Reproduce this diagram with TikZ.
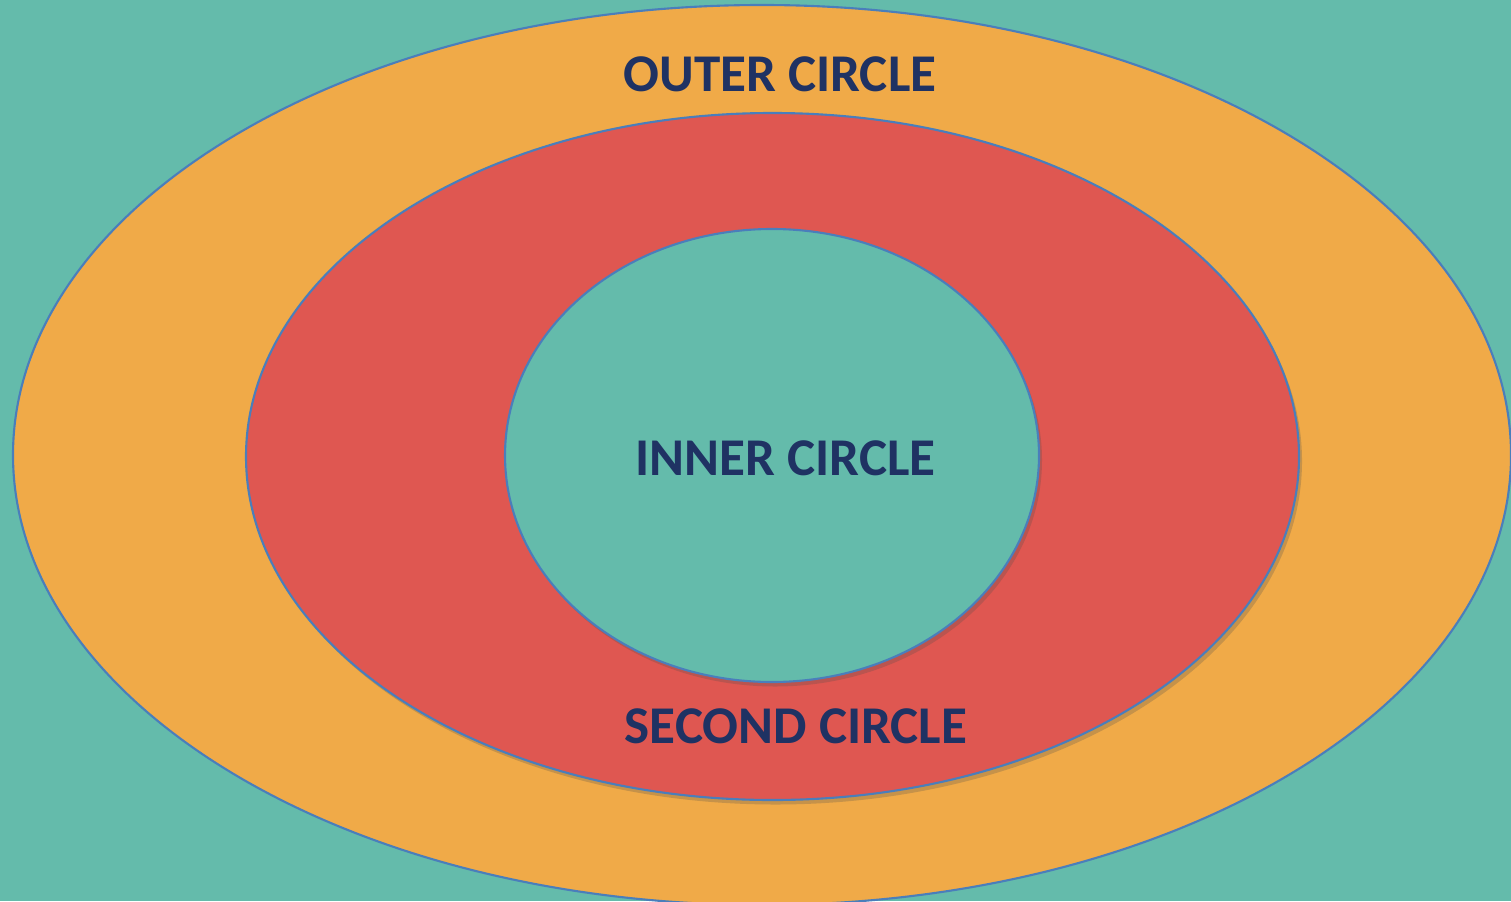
\documentclass[tikz,border=0pt]{standalone}
\usepackage{fontspec}
\setmainfont{Carlito}
\usetikzlibrary{positioning,shapes.geometric,shadows}
\definecolor{turquesa}{HTML}{64BBAB}
\definecolor{naranja}{HTML}{F0AA48}
\definecolor{rojo}{HTML}{DF5751}
\definecolor{borde}{HTML}{4A7EBB}
\definecolor{marino}{HTML}{1F3263}

\begin{document}
\begin{tikzpicture}[
      anillo/.style={ellipse,draw=borde,line width=0.6pt,inner sep=0pt},
      sombra/.style={drop shadow={shadow xshift=0.03cm,shadow yshift=-0.045cm,opacity=0.25,fill=black!70}},
      etiqueta/.style={font=\fontsize{15.1}{18}\selectfont\bfseries,text=marino,inner sep=0pt}]
    \useasboundingbox (0,0) rectangle (15.11,-9.01);
    \clip (0,0) rectangle (15.11,-9.01);
    \fill[turquesa] (0,0) rectangle (15.11,-9.01);
    % the three rings
    \node[anillo,fill=naranja,minimum width=14.98cm,minimum height=9.0cm] (exterior) at (7.62,-4.55) {};
    \node[anillo,sombra,fill=rojo,minimum width=10.53cm,minimum height=6.87cm] (segundo) at (7.725,-4.565) {};
    \node[anillo,sombra,fill=turquesa,minimum width=5.34cm,minimum height=4.53cm] (interior) at (7.72,-4.555) {};
    % labels
    \node[etiqueta] (txtexterior) at (7.80,-0.745) {OUTER CIRCLE};
    \node[etiqueta] (txtinterior) at (7.855,-4.58) {INNER CIRCLE};
    \node[etiqueta] (txtsegundo) at (7.96,-7.26) {SECOND CIRCLE};
  \end{tikzpicture}
\end{document}
